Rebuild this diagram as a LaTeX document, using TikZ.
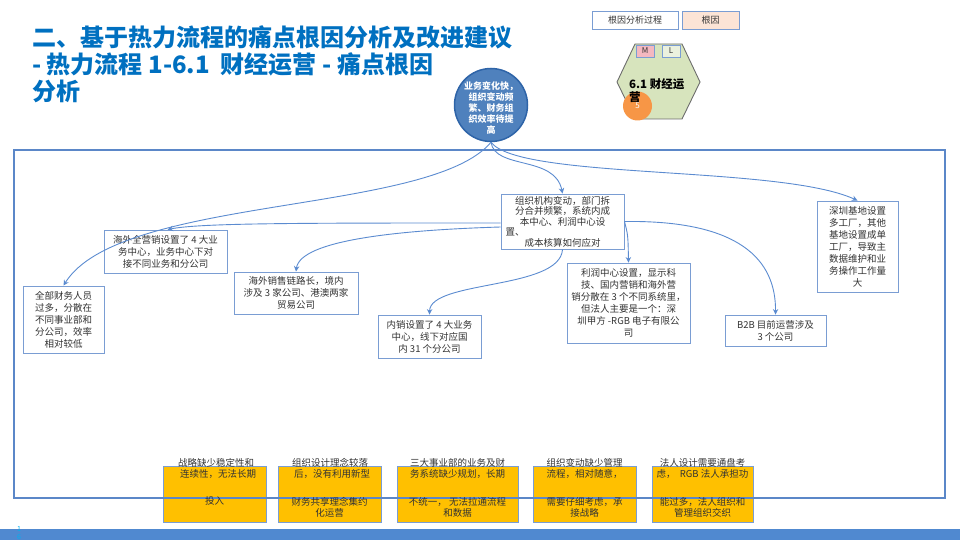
\documentclass[tikz,border=0pt]{standalone}
\usepackage{fontspec}
\setmainfont{Noto Sans CJK SC}
\usetikzlibrary{arrows.meta}
\definecolor{titleblue}{HTML}{0070C0}
\definecolor{lineblue}{HTML}{5B8BD0}
\definecolor{boxblue}{HTML}{7A9DD3}
\definecolor{framblue}{HTML}{5B87C8}
\definecolor{circblue}{HTML}{4F81BD}
\definecolor{circedge}{HTML}{2E64A8}
\definecolor{gold}{HTML}{FFC000}
\definecolor{peach}{HTML}{FCE4D6}
\definecolor{hexgreen}{HTML}{D7E4BD}
\definecolor{mpink}{HTML}{F4B8C0}
\definecolor{lgreen}{HTML}{EBF1DE}
\definecolor{orng}{HTML}{F79646}
\definecolor{barblue}{HTML}{5089D0}
\definecolor{txtgray}{HTML}{333333}
\definecolor{pagecyan}{HTML}{00B0F0}
\begin{document}
\begin{tikzpicture}[x=1pt,y=-1pt,
  cause/.style={draw=boxblue, line width=0.9pt, fill=white, inner sep=1pt, align=center,
    font=\fontsize{9.5}{12}\selectfont, text=txtgray},
  conn/.style={draw=lineblue, line width=0.9pt, -{Stealth[length=5.5pt,width=5.5pt]}},
  goldbox/.style={draw=boxblue, line width=0.9pt, fill=gold, inner sep=0pt, minimum height=56pt},
  goldtxt/.style={align=center, font=\fontsize{9.5}{11}\selectfont, text=txtgray, inner sep=0pt},
  legend/.style={draw=boxblue, line width=0.8pt, minimum height=18pt, inner sep=0pt,
    font=\fontsize{9}{10}\selectfont, text=txtgray}]
\useasboundingbox (0,0) rectangle (960,540);

% title
\node[anchor=west, text=titleblue, font=\bfseries\fontsize{24}{27}\selectfont, align=left, inner sep=0pt]
  (title) at (32,64) {二、基于热力流程的痛点根因分析及改进建议\\- 热力流程 1-6.1\ \ 财经运营 - 痛点根因\\分析};

% legend
\node[legend, fill=white, minimum width=86pt] (leg1) at (635,20) {根因分析过程};
\node[legend, fill=peach, minimum width=57pt] (leg2) at (710.5,20) {根因};

% hexagon
\draw[fill=hexgreen, draw=gray!85!black, line width=0.9pt]
  (617,82) -- (635,44) -- (682,44) -- (700,82) -- (682,119) -- (635,119) -- cycle;
\node[draw=boxblue, fill=mpink, minimum width=18pt, minimum height=12pt, inner sep=0pt,
  font=\fontsize{8}{8}\selectfont, text=txtgray] (M) at (645,51) {M};
\node[draw=boxblue, fill=lgreen, minimum width=18pt, minimum height=12pt, inner sep=0pt,
  font=\fontsize{8}{8}\selectfont, text=txtgray] (L) at (671,51) {L};
\node[circle, fill=orng, minimum size=29pt, inner sep=0pt, text=white,
  font=\fontsize{8}{8}\selectfont] (five) at (637.5,106) {5};
\node[anchor=north west, inner sep=0pt, font=\bfseries\fontsize{11.5}{13}\selectfont, align=left]
  (hextxt) at (629,78) {6.1 财经运\\营};

% frame and gold boxes
\node[goldbox, minimum width=103pt] (y1) at (214.5,494) {};
\node[goldbox, minimum width=103pt] (y2) at (329.5,494) {};
\node[goldbox, minimum width=121pt] (y3) at (457.5,494) {};
\node[goldbox, minimum width=103pt] (y4) at (584.5,494) {};
\node[goldbox, minimum width=101pt] (y5) at (702.5,494) {};
\draw[framblue, line width=1.6pt] (14,150) rectangle (945,498);

\node[goldtxt] (y1a) at (216,468.5) {战略缺少稳定性和\\\ \ 连续性，无法长期};
\node[goldtxt] (y1b) at (214.5,507.5) {投入\\\strut};
\node[goldtxt] (y2a) at (330,468.5) {组织设计理念较落\\\ \ 后，没有利用新型};
\node[goldtxt] (y2b) at (329.5,507.5) {财务共享理念集约\\化运营};
\node[goldtxt] (y3a) at (457.5,468.5) {三大事业部的业务及财\\务系统缺少规划，长期};
\node[goldtxt] (y3b) at (457.5,507.5) {不统一， 无法拉通流程\\和数据};
\node[goldtxt] (y4a) at (584.5,468.5) {组织变动缺少管理\\流程，相对随意，};
\node[goldtxt] (y4b) at (584.5,507.5) {需要仔细考虑，承\\接战略};
\node[goldtxt] (y5a) at (702.5,468.5) {法人设计需要通盘考\\虑，\ \ RGB 法人承担功};
\node[goldtxt] (y5b) at (702.5,507.5) {能过多，法人组织和\\管理组织交织};

% root circle
\node[circle, fill=circblue, draw=circedge, line width=1.5pt, minimum size=73pt, inner sep=0pt]
  (root) at (491,105) {};
\node[text=white, font=\bfseries\fontsize{9}{11}\selectfont, align=center, inner sep=0pt]
  (roottxt) at (491,108) {业务变化快，\\组织变动频\\繁、财务组\\织效率待提\\高};

% cause boxes
\node[cause, minimum width=123pt, minimum height=55pt, text width=114pt,
  font=\fontsize{9.5}{10.5}\selectfont] (A) at (562.5,221.5)
  {组织机构变动，部门拆\\分合并频繁，系统内成\\本中心、利润中心设\\置、\hfill\null\\成本核算如何应对};
\node[cause, minimum width=123pt, minimum height=43pt] (B) at (165.5,251.5)
  {海外全营销设置了 4 大业\\务中心，业务中心下对\\接不同业务和分公司};
\node[cause, minimum width=81pt, minimum height=67pt] (C) at (63.5,319.5)
  {全部财务人员\\过多，分散在\\不同事业部和\\分公司，效率\\相对较低};
\node[cause, minimum width=124pt, minimum height=42pt] (D) at (296,293)
  {海外销售链路长，境内\\涉及 3 家公司、港澳两家\\贸易公司};
\node[cause, minimum width=103pt, minimum height=43pt] (E) at (429.5,336.5)
  {内销设置了 4 大业务\\中心，线下对应国\\内 31 个分公司};
\node[cause, minimum width=123pt, minimum height=80pt] (F) at (628.5,303)
  {利润中心设置，显示科\\技、国内营销和海外营\\销分散在 3 个不同系统里，\\但法人主要是一个：深\\圳甲方 -RGB 电子有限公\\司};
\node[cause, minimum width=101pt, minimum height=31pt] (G) at (775.5,330.5)
  {B2B 目前运营涉及\\3 个公司};
\node[cause, minimum width=81pt, minimum height=91pt] (H) at (857.5,246.5)
  {深圳基地设置\\多工厂，其他\\基地设置成单\\工厂，导致主\\数据维护和业\\务操作工作量\\大};

% connectors
\draw[conn] (root.south) .. controls (495,170) and (555,155) .. (A.north);
\draw[conn] (root.south) .. controls (520,180) and (780,165) .. (H.north);
\draw[conn] (root.south) .. controls (430,215) and (120,195) .. (C.north);
\draw[conn] ([yshift=-1.5pt]A.west) .. controls (300,223) and (200,223) .. ([xshift=2pt]B.north);
\draw[conn] ([yshift=-5.5pt]A.west) .. controls (400,230) and (300,240) .. (D.north);
\draw[conn] (A.south) .. controls (560,290) and (430,280) .. (E.north);
\draw[conn] (A.east) .. controls (628,235) .. (F.north);
\draw[conn] (A.east) .. controls (740,220) and (776,260) .. (G.north);

% bottom bar
\fill[barblue] (0,529) rectangle (960,540);
\node[text=pagecyan, font=\fontsize{7}{8}\selectfont, align=center, inner sep=0pt] (page) at (19,533) {1\\6};
\end{tikzpicture}
\end{document}
